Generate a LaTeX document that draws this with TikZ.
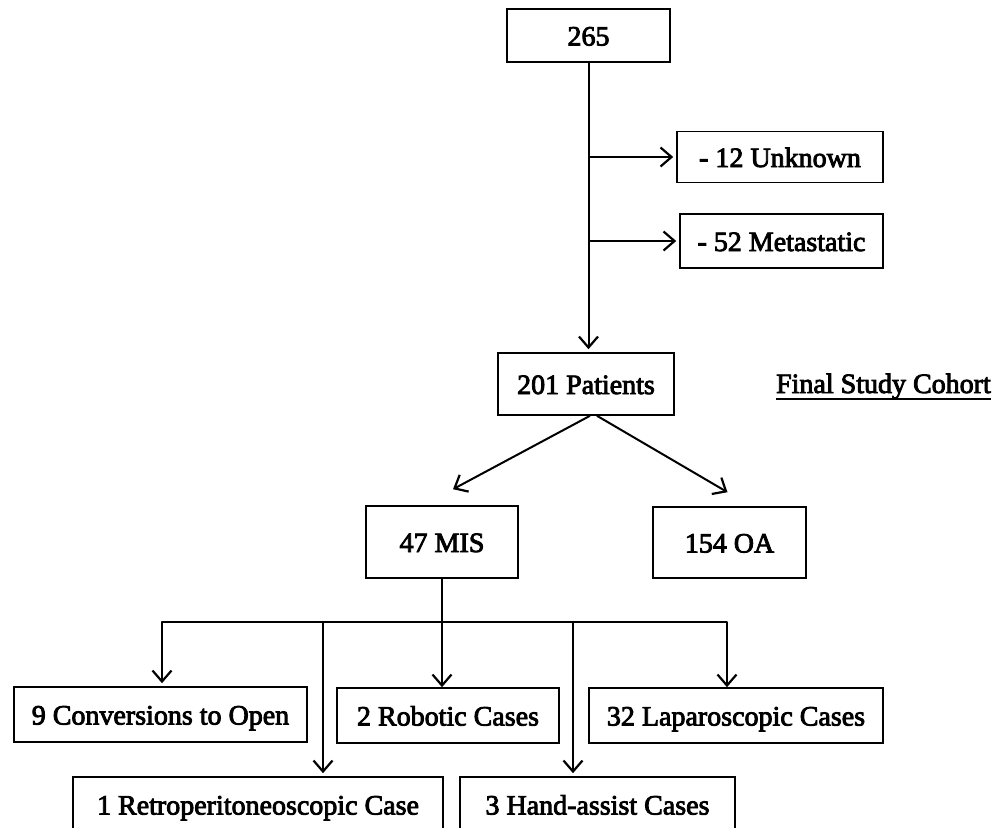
\documentclass[tikz,border=0pt]{standalone}
\usepackage{fontspec}
\newfontfamily\chartfont{Liberation Serif}[FakeBold=3]
\usetikzlibrary{arrows.meta}

\begin{document}
\begin{tikzpicture}[x=1pt, y=-1pt,
  font=\chartfont\fontsize{28pt}{32pt}\selectfont,
  box/.style={draw, line width=1.6pt, inner sep=0pt, text height=20pt, text depth=0pt},
  arr/.style={line width=2pt, line join=round, -{Straight Barb[length=11pt, width=19pt, line width=2.2pt]}, shorten >=3pt}]
  \clip (0,0) rectangle (1005,828);
  \node[box, minimum width=163pt, minimum height=53pt] (total) at (588.5,35.5) {265};
  \node[box, minimum width=206pt, minimum height=51pt] (unknown) at (780,157) {- 12 Unknown};
  \node[box, minimum width=203pt, minimum height=54pt] (meta) at (781.5,241) {- 52 Metastatic};
  \node[box, minimum width=176pt, minimum height=62pt] (patients) at (586,384) {201 Patients};
  \node[inner sep=0pt, anchor=base east] (cohort) at (991,393) {Final Study Cohort};
  \node[box, minimum width=152pt, minimum height=72pt] (mis) at (442,542) {47 MIS};
  \node[box, minimum width=153pt, minimum height=71pt] (oa) at (729.5,542.5) {154 OA};
  \node[box, minimum width=293pt, minimum height=55pt] (conv) at (160.5,714.5) {9 Conversions to Open};
  \node[box, minimum width=222pt, minimum height=55pt] (robot) at (448,715.5) {2 Robotic Cases};
  \node[box, minimum width=294pt, minimum height=55pt] (lap) at (736,715.5) {32 Laparoscopic Cases};
  \node[box, minimum width=370pt, minimum height=55pt] (retro) at (258,804.5) {1 Retroperitoneoscopic Case};
  \node[box, minimum width=275pt, minimum height=55pt] (hand) at (597.5,804.5) {3 Hand-assist Cases};
  % underline of the cohort label
  \draw[line width=1.8pt] ([yshift=-6pt]cohort.base west) -- ([yshift=-6pt]cohort.base east);
  % exclusions
  \draw[arr] (total.south) -- (total.south |- patients.north);
  \draw[arr] (total.south |- unknown.west) -- (unknown.west);
  \draw[arr] (total.south |- meta.west) -- (meta.west);
  % split of the cohort
  \draw[arr, shorten >=0pt] ([xshift=4pt]patients.south) -- ([shift={(11,-16)}]mis.north);
  \draw[arr, shorten >=0pt] ([xshift=11pt]patients.south) -- ([shift={(-2,-14)}]oa.north);
  % MIS subgroups
  \coordinate (bus) at (442,622);
  \coordinate (rdrop) at (323,622);
  \coordinate (hdrop) at (573,622);
  \draw[arr, shorten >=0pt] (mis.south) -- (mis.south |- robot.north);
  \draw[arr] (bus) -| ([xshift=1.5pt]conv.north);
  \draw[arr, shorten >=0pt] (bus) -| ([xshift=-9pt]lap.north);
  \draw[arr] (rdrop) -- (rdrop |- retro.north);
  \draw[arr] (hdrop) -- (hdrop |- hand.north);
\end{tikzpicture}
\end{document}
